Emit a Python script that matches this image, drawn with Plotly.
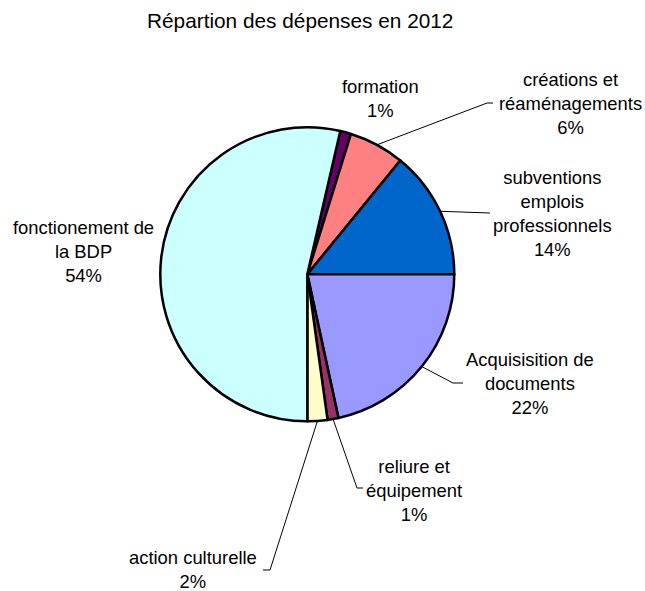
import math
import plotly.graph_objects as go

# ---- data ----
categories = ["formation", "créations et<br>réaménagements", "subventions<br>emplois<br>professionnels",
              "Acquisisition de<br>documents", "reliure et<br>équipement", "action culturelle",
              "fonctionement de<br>la BDP"]
values = [1.2, 6.1, 14.1, 21.6, 1.2, 2.2, 53.6]
colors = ["#660066", "#FF8080", "#0066CC", "#9999FF", "#993366", "#FFFFCC", "#CCFFFF"]
title_text = "Répartion des dépenses en 2012"

# ---- layout (pixels) ----
W, H = 645, 591
CX, CY, R = 307.3, 274.3, 147.0
ROTATION = 12.96
label_pos = [(380, 99), (570, 103.5), (552, 213.5), (530, 384), (414, 490), (193, 569.5), (83, 251.5)]
# leader line: elbow point, tail end (None = no leader)
leaders = [None, ((487, 103), (493, 103)), ((490, 213), None), ((453, 383), (463, 383)),
           ((357, 488), (363, 488)), ((270, 570), (263, 570)), None]
FONT = "Liberation Sans, Arial, sans-serif"
LABEL_SIZE = 18.4


def px(x):
    return x / W


def py(y):
    return 1 - y / H


fig = go.Figure()
fig.add_trace(go.Pie(
    values=values,
    labels=[c.replace("<br>", " ") for c in categories],
    sort=False,
    direction="clockwise",
    rotation=ROTATION,
    marker=dict(colors=colors, line=dict(color="black", width=2.5)),
    textinfo="none",
    hoverinfo="label+percent",
    showlegend=False,
    domain=dict(x=[px(CX - R), px(CX + R)], y=[py(CY + R), py(CY - R)]),
))

total = sum(values)
annotations = [dict(text=title_text, x=px(299.5), y=py(20), xref="paper", yref="paper",
                    showarrow=False, xanchor="center", yanchor="middle",
                    font=dict(family=FONT, size=20.8, color="black"))]
shapes = []
cum = 0.0
for i, (cat, v) in enumerate(zip(categories, values)):
    mid = ROTATION + (cum + v / 2) / total * 360.0
    cum += v
    pct = round(v / total * 100)
    lx, ly = label_pos[i]
    annotations.append(dict(text=f"{cat}<br>{pct}%", x=px(lx), y=py(ly), xref="paper", yref="paper",
                            showarrow=False, xanchor="center", yanchor="middle", align="center",
                            font=dict(family=FONT, size=LABEL_SIZE, color="black")))
    if leaders[i] is not None:
        a = math.radians(mid)
        ex, ey = CX + R * math.sin(a), CY - R * math.cos(a)
        elbow, tail = leaders[i]
        pts = [(ex, ey), elbow] + ([tail] if tail else [])
        path = "M " + " L ".join(f"{px(x)},{py(y)}" for x, y in pts)
        shapes.append(dict(type="path", path=path, xref="paper", yref="paper",
                           line=dict(color="black", width=1)))

fig.update_layout(
    width=W, height=H,
    margin=dict(l=0, r=0, t=0, b=0),
    paper_bgcolor="white", plot_bgcolor="white",
    annotations=annotations, shapes=shapes,
)
fig.write_html("out.html")
